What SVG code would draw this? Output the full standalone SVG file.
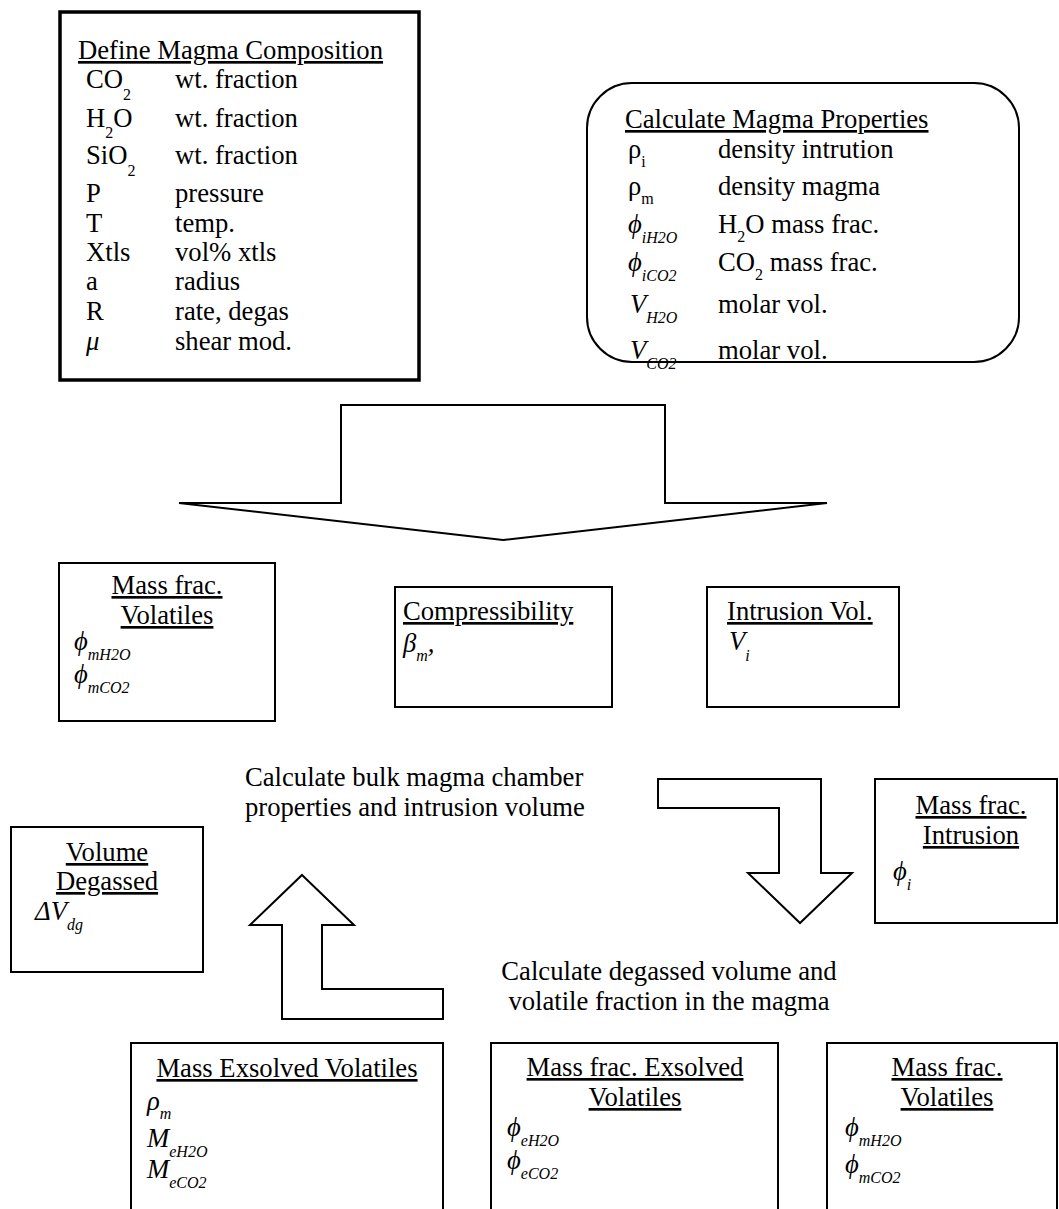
<svg xmlns="http://www.w3.org/2000/svg" width="1059" height="1209" viewBox="0 0 1059 1209">
<style>
text { font-family: "Liberation Serif", "Times New Roman", "DejaVu Serif", serif; font-size: 26.67px; fill: #000; }
.u { text-decoration: underline; }
.s { font-size: 16px; }
.i { font-style: italic; }
.box { fill: #fff; stroke: #000; stroke-width: 2; }
.thick { stroke-width: 3.5; }
.arrow { fill: #fff; stroke: #000; stroke-width: 2; stroke-linejoin: miter; }
</style>
<rect width="1059" height="1209" fill="#fff"/>

<g id="connectors">
  <path class="arrow" d="M341,405 L665,405 L665,503 L827,503 L503,540 L179,503 L341,503 Z"/>
  <path class="arrow" d="M658,779 L821,779 L821,873 L852,873 L800,923 L748,873 L779,873 L779,808 L658,808 Z"/>
  <path class="arrow" d="M302,875 L354,925 L322,925 L322,989 L443,989 L443,1019 L282,1019 L282,925 L250,925 Z"/>
</g>

<g id="define-composition">
  <rect class="box thick" x="60" y="12" width="359" height="368"/>
  <text class="u" x="78" y="59">Define Magma Composition</text>
  <text x="86" y="88">CO<tspan class="s" dy="12">2</tspan></text>
  <text x="175" y="88">wt. fraction</text>
  <text x="86" y="127">H<tspan class="s" dy="11">2</tspan><tspan dy="-11">O</tspan></text>
  <text x="175" y="127">wt. fraction</text>
  <text x="86" y="164">SiO<tspan class="s" dy="12">2</tspan></text>
  <text x="175" y="164">wt. fraction</text>
  <text x="86" y="202">P</text>
  <text x="175" y="202">pressure</text>
  <text x="86" y="232">T</text>
  <text x="175" y="232">temp.</text>
  <text x="86" y="261">Xtls</text>
  <text x="175" y="261">vol% xtls</text>
  <text x="86" y="290">a</text>
  <text x="175" y="290">radius</text>
  <text x="86" y="320">R</text>
  <text x="175" y="320">rate, degas</text>
  <text class="i" x="86" y="350">μ</text>
  <text x="175" y="350">shear mod.</text>
</g>

<g id="magma-properties">
  <rect class="box" x="587" y="83" width="432" height="279" rx="45" ry="45"/>
  <text class="u" x="625" y="128">Calculate Magma Properties</text>
  <text x="628" y="158">ρ<tspan class="s" dy="9">i</tspan></text>
  <text x="718" y="158">density intrution</text>
  <text x="628" y="195">ρ<tspan class="s" dy="9">m</tspan></text>
  <text x="718" y="195">density magma</text>
  <text class="i" x="628" y="233">ϕ<tspan class="s" dy="10">iH2O</tspan></text>
  <text x="718" y="233">H<tspan class="s" dy="9">2</tspan><tspan dy="-9">O mass frac.</tspan></text>
  <text class="i" x="628" y="271">ϕ<tspan class="s" dy="10">iCO2</tspan></text>
  <text x="718" y="271">CO<tspan class="s" dy="9">2</tspan><tspan dy="-9"> mass frac.</tspan></text>
  <text class="i" x="630" y="313">V<tspan class="s" dy="10">H2O</tspan></text>
  <text x="718" y="313">molar vol.</text>
  <text class="i" x="630" y="359">V<tspan class="s" dy="10">CO2</tspan></text>
  <text x="718" y="359">molar vol.</text>
</g>

<g id="mass-frac-volatiles">
  <rect class="box" x="59" y="563" width="216" height="158"/>
  <text class="u" text-anchor="middle"><tspan x="167" y="594">Mass frac.</tspan><tspan x="167" dy="30">Volatiles</tspan></text>
  <text class="i" x="74" y="650">ϕ<tspan class="s" dy="10">mH2O</tspan></text>
  <text class="i" x="74" y="683">ϕ<tspan class="s" dy="10">mCO2</tspan></text>
</g>

<g id="compressibility">
  <rect class="box" x="395" y="587" width="217" height="120"/>
  <text class="u" x="403" y="620">Compressibility</text>
  <text class="i" x="403" y="652">β<tspan class="s" dy="9">m</tspan><tspan dy="-9">,</tspan></text>
</g>

<g id="intrusion-vol">
  <rect class="box" x="707" y="587" width="192" height="120"/>
  <text class="u" x="727" y="620">Intrusion Vol.</text>
  <text class="i" x="729" y="650">V<tspan class="s" dy="11">i</tspan></text>
</g>

<g id="label-bulk">
  <text x="245" y="786">Calculate bulk magma chamber</text>
  <text x="245" y="816">properties and intrusion volume</text>
</g>

<g id="volume-degassed">
  <rect class="box" x="11" y="827" width="192" height="145"/>
  <text class="u" text-anchor="middle"><tspan x="107" y="861">Volume</tspan><tspan x="107" dy="29">Degassed</tspan></text>
  <text class="i" x="35" y="920">ΔV<tspan class="s" dy="10">dg</tspan></text>
</g>

<g id="mass-frac-intrusion">
  <rect class="box" x="875" y="779" width="182" height="144"/>
  <text class="u" x="971" y="814" text-anchor="middle">Mass frac.</text>
  <text class="u" x="971" y="844" text-anchor="middle">Intrusion</text>
  <text class="i" x="893" y="880">ϕ<tspan class="s" dy="10">i</tspan></text>
</g>

<g id="label-degassed">
  <text x="669" y="980" text-anchor="middle">Calculate degassed volume and</text>
  <text x="669" y="1010" text-anchor="middle">volatile fraction in the magma</text>
</g>

<g id="mass-exsolved-volatiles">
  <rect class="box" x="131" y="1043" width="312" height="180"/>
  <text class="u" x="287" y="1077" text-anchor="middle">Mass Exsolved Volatiles</text>
  <text class="i" x="147" y="1110">ρ<tspan class="s" dy="9">m</tspan></text>
  <text class="i" x="147" y="1147">M<tspan class="s" dy="10">eH2O</tspan></text>
  <text class="i" x="147" y="1178">M<tspan class="s" dy="10">eCO2</tspan></text>
</g>

<g id="mass-frac-exsolved">
  <rect class="box" x="491" y="1043" width="287" height="180"/>
  <text class="u" text-anchor="middle"><tspan x="635" y="1076">Mass frac. Exsolved</tspan><tspan x="635" dy="30">Volatiles</tspan></text>
  <text class="i" x="507" y="1136">ϕ<tspan class="s" dy="10">eH2O</tspan></text>
  <text class="i" x="507" y="1169">ϕ<tspan class="s" dy="10">eCO2</tspan></text>
</g>

<g id="mass-frac-volatiles-2">
  <rect class="box" x="827" y="1043" width="230" height="180"/>
  <text class="u" text-anchor="middle"><tspan x="947" y="1076">Mass frac.</tspan><tspan x="947" dy="30">Volatiles</tspan></text>
  <text class="i" x="845" y="1136">ϕ<tspan class="s" dy="10">mH2O</tspan></text>
  <text class="i" x="845" y="1173">ϕ<tspan class="s" dy="10">mCO2</tspan></text>
</g>
</svg>
